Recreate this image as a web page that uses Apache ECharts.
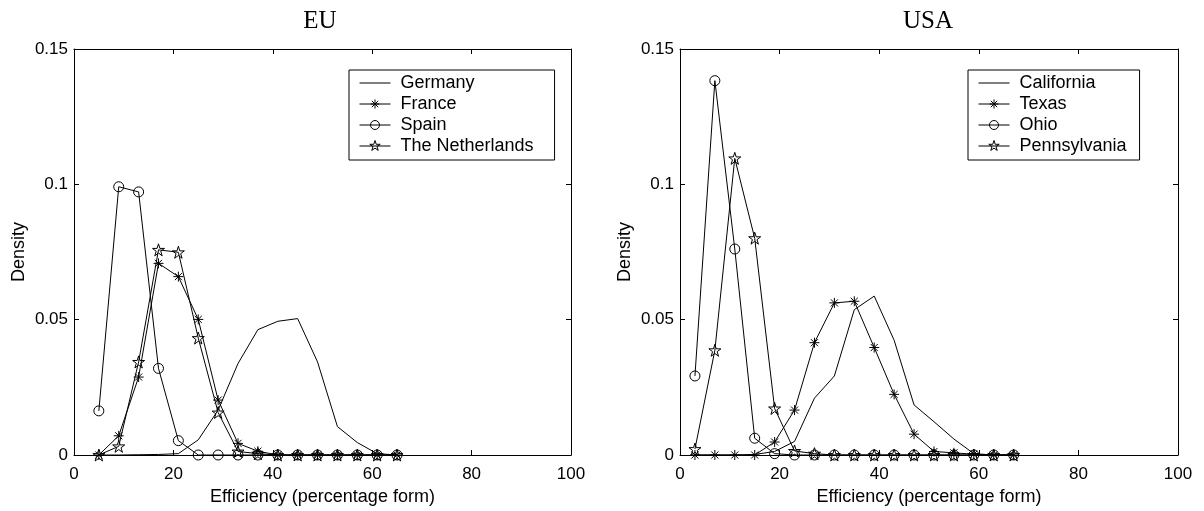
<!DOCTYPE html>
<html>
<head>
<meta charset="utf-8">
<script src="https://cdn.jsdelivr.net/npm/echarts@6/dist/echarts.min.js"></script>
<style>
html,body{margin:0;padding:0;background:#fff;}
#chart{width:1204px;height:511px;}
</style>
</head>
<body>
<div id="chart"></div>
<script>
// ---- data ----
const titles = ['EU', 'USA'];
const xTicks = [0, 20, 40, 60, 80, 100];
const yTicks = [0, 0.05, 0.1, 0.15];

const xEU = [5, 9, 13, 17, 21, 25, 29, 33, 37, 41, 45, 49, 53, 57, 61, 65];
const germany     = [0, 0, 0.0001, 0.0002, 0.0005, 0.0056, 0.0166, 0.0338, 0.0463, 0.0494, 0.0504, 0.0344, 0.0105, 0.0046, 0.0005, 0];
const france      = [0, 0.0071, 0.0288, 0.0708, 0.0659, 0.0501, 0.0203, 0.0043, 0.0014, 0, 0, 0, 0, 0, 0, 0];
const spain       = [0.0163, 0.0991, 0.0972, 0.0320, 0.0053, 0, 0, 0, 0, 0, 0, 0, 0, 0, 0, 0];
const netherlands = [0, 0.0032, 0.0344, 0.0758, 0.0749, 0.0432, 0.0157, 0.0013, 0.0005, 0, 0, 0, 0, 0, 0, 0];

const xUSA = [3, 7, 11, 15, 19, 23, 27, 31, 35, 39, 43, 47, 51, 55, 59, 63, 67];
const california   = [0, 0, 0, 0.0002, 0.0013, 0.0050, 0.0210, 0.0292, 0.0537, 0.0587, 0.0424, 0.0185, 0.0123, 0.0059, 0.0005, 0, 0];
const texas        = [0, 0, 0, 0, 0.0048, 0.0166, 0.0415, 0.0562, 0.0568, 0.0397, 0.0224, 0.0077, 0.0013, 0.0008, 0.0003, 0, 0];
const ohio         = [0.0292, 0.1383, 0.0761, 0.0062, 0.0005, 0, 0, 0, 0, 0, 0, 0, 0, 0, 0, 0, 0];
const pennsylvania = [0.0022, 0.0387, 0.1096, 0.0801, 0.0172, 0.0015, 0.0005, 0, 0, 0, 0, 0, 0, 0, 0, 0, 0];

const euNames  = ['Germany', 'France', 'Spain', 'The Netherlands'];
const usaNames = ['California', 'Texas', 'Ohio', 'Pennsylvania'];

// ---- styles ----
const SANS = '"Liberation Sans", Arial, sans-serif';
const SERIF = '"Liberation Serif", "Times New Roman", serif';
const ASTER = 'path://M0,-10L0,10M-10,0L10,0M-7.07,-7.07L7.07,7.07M-7.07,7.07L7.07,-7.07';
const STAR = 'path://M0,-10L2.245,-3.09L9.51,-3.09L3.63,1.18L5.88,8.09L0,3.82L-5.88,8.09L-3.63,1.18L-9.51,-3.09L-2.245,-3.09Z';
const markers = [
  {symbol: 'none', size: 0},
  {symbol: ASTER, size: 10},
  {symbol: 'circle', size: 10},
  {symbol: STAR, size: 12}
];
// legend icons: line + marker, bbox 31x12
const ICON_BASE = 'M0,0M31,12M0,6L31,6';
const legendIcons = [
  'path://' + ICON_BASE,
  'path://' + ICON_BASE + 'M15.5,1.5L15.5,10.5M11,6L20,6M12.32,2.82L18.68,9.18M12.32,9.18L18.68,2.82',
  'path://' + ICON_BASE + 'M20,6A4.5,4.5,0,1,1,11,6A4.5,4.5,0,1,1,20,6Z',
  'path://' + ICON_BASE + 'M15.5,0.5L16.73,4.3L20.73,4.3L17.5,6.65L18.73,10.45L15.5,8.1L12.27,10.45L13.5,6.65L10.27,4.3L14.27,4.3Z'
];

const pairs = (xs, ys) => xs.map((x, i) => [x, ys[i]]);

function makeSeries(name, xs, ys, m, idx) {
  return {
    type: 'line', name: name,
    xAxisIndex: idx * 2, yAxisIndex: idx * 2,
    data: pairs(xs, ys),
    symbol: m.symbol, symbolSize: m.size, showSymbol: m.symbol !== 'none',
    lineStyle: {color: '#000', width: 1},
    itemStyle: {color: 'rgba(0,0,0,0)', borderColor: '#000', borderWidth: 1},
    emphasis: {disabled: true},
    z: 3
  };
}

const grids = [
  {left: 74, right: 1204 - 571, top: 49, bottom: 511 - 455},
  {left: 680, right: 1204 - 1178, top: 49, bottom: 511 - 455}
];

const xAxes = [], yAxes = [];
[0, 1].forEach(g => {
  xAxes.push({
    type: 'value', gridIndex: g, min: 0, max: 100, interval: 20, position: 'bottom',
    name: 'Efficiency (percentage form)', nameLocation: 'middle', nameGap: 29,
    nameTextStyle: {fontFamily: SANS, fontSize: 18, color: '#000'},
    axisLine: {show: true, onZero: false, lineStyle: {color: '#000', width: 1}},
    axisTick: {show: true, inside: true, length: 5, lineStyle: {color: '#000'}},
    axisLabel: {fontFamily: SANS, fontSize: 17, color: '#000', margin: 11,
      formatter: v => xTicks.includes(v) ? String(v) : ''},
    splitLine: {show: false}
  });
  xAxes.push({
    type: 'value', gridIndex: g, min: 0, max: 100, interval: 20, position: 'top',
    axisLine: {show: true, onZero: false, lineStyle: {color: '#000', width: 1}},
    axisTick: {show: true, inside: true, length: 5, lineStyle: {color: '#000'}},
    axisLabel: {show: false}, splitLine: {show: false}
  });
  yAxes.push({
    type: 'value', gridIndex: g, min: 0, max: 0.15, interval: 0.05, position: 'left',
    name: 'Density', nameLocation: 'middle', nameGap: 46,
    nameTextStyle: {fontFamily: SANS, fontSize: 18, color: '#000'},
    axisLine: {show: true, onZero: false, lineStyle: {color: '#000', width: 1}},
    axisTick: {show: true, inside: true, length: 5, lineStyle: {color: '#000'}},
    axisLabel: {fontFamily: SANS, fontSize: 17, color: '#000', margin: 6,
      formatter: v => { const t = yTicks.find(q => Math.abs(q - v) < 1e-9); return t === undefined ? '' : String(t); }},
    splitLine: {show: false}
  });
  yAxes.push({
    type: 'value', gridIndex: g, min: 0, max: 0.15, interval: 0.05, position: 'right',
    axisLine: {show: true, onZero: false, lineStyle: {color: '#000', width: 1}},
    axisTick: {show: true, inside: true, length: 5, lineStyle: {color: '#000'}},
    axisLabel: {show: false}, splitLine: {show: false}
  });
});

const series = [];
const euData = [germany, france, spain, netherlands];
const usaData = [california, texas, ohio, pennsylvania];
euNames.forEach((n, i) => series.push(makeSeries(n, xEU, euData[i], markers[i], 0)));
usaNames.forEach((n, i) => series.push(makeSeries(n, xUSA, usaData[i], markers[i], 1)));

function makeLegend(names, left, padRight) {
  return {
    data: names.map((n, i) => ({name: n, icon: legendIcons[i]})),
    orient: 'vertical', left: left, top: 70,
    itemWidth: 31, itemHeight: 12, itemGap: 3,
    padding: [4, padRight, 5, 10],
    borderColor: '#000', borderWidth: 1, backgroundColor: '#fff',
    selectedMode: false,
    itemStyle: {color: 'rgba(0,0,0,0)', borderColor: '#000', borderWidth: 1},
    lineStyle: {color: '#000', width: 1},
    textStyle: {fontFamily: SANS, fontSize: 18, color: '#000', lineHeight: 18, padding: [0, 0, 0, 5]}
  };
}

const option = {
  animation: false,
  backgroundColor: '#fff',
  title: [
    {text: titles[0], left: 320, top: 9, textAlign: 'center', padding: 0,
     textStyle: {fontFamily: SERIF, fontSize: 25, fontWeight: 'normal', color: '#000'}},
    {text: titles[1], left: 928, top: 9, textAlign: 'center', padding: 0,
     textStyle: {fontFamily: SERIF, fontSize: 25, fontWeight: 'normal', color: '#000'}}
  ],
  legend: [makeLegend(euNames, 349, 21), makeLegend(usaNames, 968, 13)],
  grid: grids,
  xAxis: xAxes,
  yAxis: yAxes,
  series: series
};

const chart = echarts.init(document.getElementById('chart'), null, {renderer: 'canvas'});
chart.setOption(option);
</script>
</body>
</html>
